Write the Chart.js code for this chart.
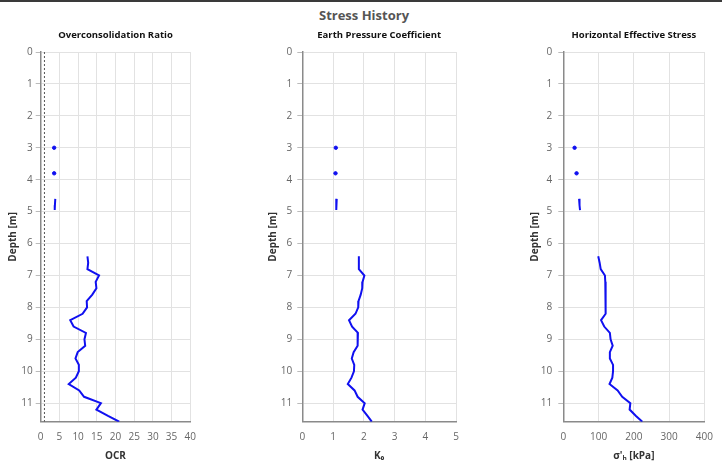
<!DOCTYPE html>
<html><head><meta charset="utf-8">
<script src="https://cdn.jsdelivr.net/npm/chart.js@4.4.1/dist/chart.umd.min.js"></script>
<style>
body{margin:0;background:#fff;width:722px;height:463px;overflow:hidden;position:relative;font-family:"Open Sans",sans-serif}
#topline{position:absolute;left:0;top:0;width:722px;height:2px;background:#3a3a3a}
#title{position:absolute;top:5px;left:0;width:728px;text-align:center;font-weight:bold;font-size:13px;color:#555;line-height:20px}
canvas{position:absolute;top:0}
</style></head><body>
<div id="topline"></div>
<div id="title">Stress History</div>
<canvas id="c1" width="205" height="463" style="left:0px"></canvas>
<canvas id="c2" width="206" height="463" style="left:262px"></canvas>
<canvas id="c3" width="200" height="463" style="left:522px"></canvas>
<script>
// ---- data ----
const depths = [3.0, 3.4, 3.8, 4.2, 4.6, 4.8, 4.95, 5.6,
  6.4, 6.6, 6.8, 7.0, 7.2, 7.4, 7.6, 7.8, 8.0, 8.2, 8.4, 8.6, 8.8, 9.0, 9.2, 9.4,
  9.6, 9.8, 10.0, 10.2, 10.4, 10.6, 10.8, 11.0, 11.2, 11.4, 11.58];
const ocrValues = [3.6, null, 3.6, null, 3.9, 3.8, 3.75, null,
  12.5, 12.7, 12.5, 15.6, 14.7, 14.9, 13.8, 12.3, 12.4, 11.2, 7.9, 8.8, 12.1, 11.7, 11.9, 9.9,
  9.3, 10.2, 10.2, 9.4, 7.5, 10.3, 11.6, 16.1, 14.9, 18.0, 21.0];
const k0Values = [1.09, null, 1.08, null, 1.12, 1.11, 1.10, null,
  1.84, 1.84, 1.84, 2.02, 1.96, 1.95, 1.90, 1.83, 1.82, 1.73, 1.52, 1.62, 1.81, 1.79, 1.81, 1.67,
  1.61, 1.69, 1.68, 1.60, 1.48, 1.70, 1.80, 2.03, 1.96, 2.12, 2.26];
const sigmaHValues = [32, null, 37.6, null, 44.7, 46, 47.4, null,
  99, 103, 106, 118, 119, 121, 121, 119, 120, 119, 107, 116, 132, 134, 140, 132,
  132, 141, 141, 139, 131, 154, 167, 190, 188, 206, 224];
const ocrRefX = [1, 1];
const ocrRefDepths = [0, 11.58];
const depthMax = 11.58;
const panelTitles = ["Overconsolidation Ratio", "Earth Pressure Coefficient", "Horizontal Effective Stress"];
const xTitles = ["OCR", "K\u2080", "\u03c3'\u2095 [kPa]"];
const xMaxes = [40, 5, 400];
const xSteps = [5, 1, 100];
const yTitle = "Depth [m]";

const FONT = '"Open Sans", sans-serif';
function pts(xs, ys){ return ys.map((y,i)=>({x: xs[i], y: y})); }
function isolatedRadius(ctx){
  const d = ctx.dataset.data, i = ctx.dataIndex;
  const p = d[i-1], n = d[i+1];
  const pn = !p || p.x == null, nn = !n || n.x == null;
  return (pn && nn) ? 1.7 : 0;
}
function makeChart(id, idx, values, layout, extra){
  const datasets = [{
    data: pts(values, depths), showLine: true, spanGaps: false,
    borderColor: '#1010f0', backgroundColor: '#1010f0', borderWidth: 2,
    pointRadius: isolatedRadius, pointBorderWidth: 1, pointBackgroundColor: '#1010f0', pointBorderColor: '#1010f0',
    tension: 0
  }].concat(extra || []);
  new Chart(document.getElementById(id), {
    type: 'scatter',
    data: { datasets },
    options: {
      responsive: false, animation: false,
      layout: { padding: { left: layout.padL, right: layout.padR, top: 20, bottom: 0 } },
      plugins: {
        legend: { display: false }, tooltip: { enabled: false },
        title: { display: true, text: panelTitles[idx], fullSize: false, color: '#111',
          font: { family: FONT, size: 9.5, weight: 'bold' }, padding: { top: 9.3, bottom: 11.3 } }
      },
      scales: {
        x: {
          type: 'linear', min: 0, max: xMaxes[idx],
          ticks: { stepSize: xSteps[idx], color: '#666', padding: 9, font: { family: FONT, size: 10 }, maxRotation: 0 },
          grid: { color: '#e2e2e2', drawTicks: false },
          border: { color: '#8a8a8a', width: 1.5 },
          title: { display: true, text: xTitles[idx], color: '#333', font: { family: FONT, size: 10, weight: 'bold' }, padding: { top: 0, bottom: 1 } },
          afterFit: s => { s.height = 41.3; }
        },
        y: {
          type: 'linear', min: 0, max: depthMax, reverse: true,
          ticks: { stepSize: 1, includeBounds: false, color: '#666', padding: layout.tickPad, font: { family: FONT, size: 10 } },
          grid: { color: '#e2e2e2', tickLength: 5, tickColor: '#bbb' },
          border: { color: '#8a8a8a', width: 1.5 },
          title: { display: true, text: yTitle, color: '#333', font: { family: FONT, size: 10, weight: 'bold' }, padding: { top: 4, bottom: 0 } },
          afterFit: s => { s.width = layout.yW; }
        }
      }
    }
  });
}
const refLine = [{
  data: pts(ocrRefX, ocrRefDepths), showLine: true, borderColor: '#555', borderWidth: 1,
  borderDash: [2, 2], pointRadius: 0
}];
makeChart('c1', 0, ocrValues, { padL: 3, padR: 12.3, yW: 37.7, tickPad: 3 }, refLine);
makeChart('c2', 1, k0Values, { padL: 1.3, padR: 12, yW: 39, tickPad: 5 });
makeChart('c3', 2, sigmaHValues, { padL: 3, padR: 9.7, yW: 38.3, tickPad: 6 });
</script>
</body></html>
